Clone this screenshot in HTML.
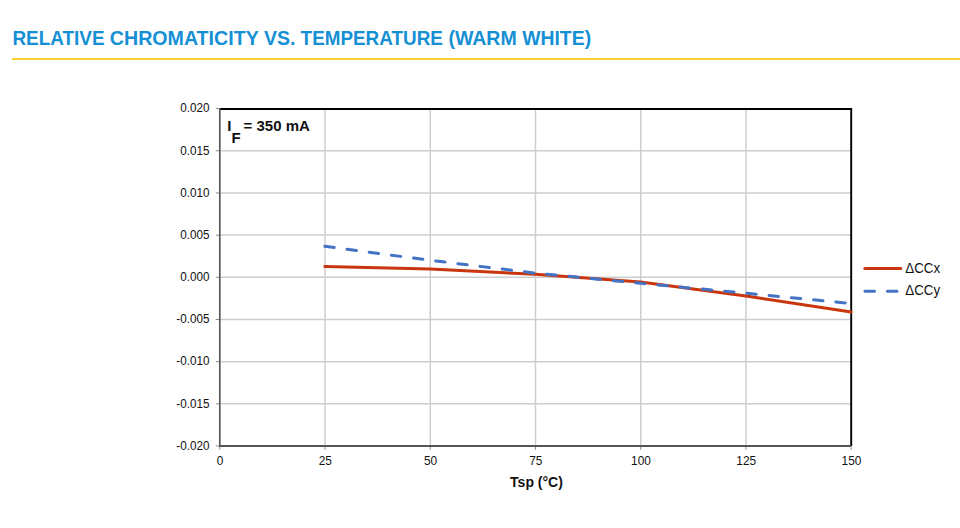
<!DOCTYPE html>
<html><head><meta charset="utf-8">
<style>
html,body{margin:0;padding:0;background:#fff;}
body{width:960px;height:528px;overflow:hidden;position:relative;}
svg{position:absolute;left:0;top:0;}
</style></head>
<body>
<svg width="960" height="528" viewBox="0 0 960 528">
<g font-family="'Liberation Sans', Arial, sans-serif" font-weight="bold" font-size="19.5" fill="#1590d5">
<text transform="translate(12.45 44.9) scale(0.971 1)">RELATIVE</text>
<text transform="translate(109.80 44.9) scale(1.007 1)">CHROMATICITY</text>
<text transform="translate(264.10 44.9) scale(1.0 1)">VS.</text>
<text transform="translate(300.60 44.9) scale(0.968 1)">TEMPERATURE</text>
<text transform="translate(448.40 44.9) scale(1.002 1)">(WARM</text>
<text transform="translate(522.20 44.9) scale(0.994 1)">WHITE)</text>
</g>
<rect x="12" y="58" width="948" height="2" fill="#fcd22c"/>
<g stroke="#cdcdcd" stroke-width="1.5" fill="none">
<line x1="219.8" y1="150.77" x2="851.2" y2="150.77"/>
<line x1="219.8" y1="192.95" x2="851.2" y2="192.95"/>
<line x1="219.8" y1="235.12" x2="851.2" y2="235.12"/>
<line x1="219.8" y1="277.30" x2="851.2" y2="277.30"/>
<line x1="219.8" y1="319.48" x2="851.2" y2="319.48"/>
<line x1="219.8" y1="361.65" x2="851.2" y2="361.65"/>
<line x1="219.8" y1="403.82" x2="851.2" y2="403.82"/>
<line x1="325.03" y1="108.6" x2="325.03" y2="446.0"/>
<line x1="430.27" y1="108.6" x2="430.27" y2="446.0"/>
<line x1="535.50" y1="108.6" x2="535.50" y2="446.0"/>
<line x1="640.73" y1="108.6" x2="640.73" y2="446.0"/>
<line x1="745.97" y1="108.6" x2="745.97" y2="446.0"/>
</g>
<g stroke="#8c8c8c" stroke-width="1" fill="none">
<line x1="215.8" y1="108.60" x2="219" y2="108.60"/>
<line x1="215.8" y1="150.77" x2="219" y2="150.77"/>
<line x1="215.8" y1="192.95" x2="219" y2="192.95"/>
<line x1="215.8" y1="235.12" x2="219" y2="235.12"/>
<line x1="215.8" y1="277.30" x2="219" y2="277.30"/>
<line x1="215.8" y1="319.48" x2="219" y2="319.48"/>
<line x1="215.8" y1="361.65" x2="219" y2="361.65"/>
<line x1="215.8" y1="403.82" x2="219" y2="403.82"/>
<line x1="215.8" y1="446.00" x2="219" y2="446.00"/>
<line x1="219.80" y1="446.8" x2="219.80" y2="449.8"/>
<line x1="325.03" y1="446.8" x2="325.03" y2="449.8"/>
<line x1="430.27" y1="446.8" x2="430.27" y2="449.8"/>
<line x1="535.50" y1="446.8" x2="535.50" y2="449.8"/>
<line x1="640.73" y1="446.8" x2="640.73" y2="449.8"/>
<line x1="745.97" y1="446.8" x2="745.97" y2="449.8"/>
<line x1="851.20" y1="446.8" x2="851.20" y2="449.8"/>
</g>
<path d="M219.8 109.0 H851.2 V446" stroke="#000" stroke-width="1.9" fill="none"/>
<line x1="219.8" y1="108.19999999999999" x2="219.8" y2="446.0" stroke="#595959" stroke-width="1.7"/>
<line x1="218.95000000000002" y1="446" x2="851.0" y2="446" stroke="#555" stroke-width="2"/>
<path d="M324.90 266.60 L430.10 269.00 L535.40 274.30 L640.60 281.90 L745.90 296.00 L851.20 311.90" stroke="#c9360e" stroke-width="3.0" fill="none" stroke-linecap="round" stroke-linejoin="round"/>
<path d="M324.90 246.30 L430.10 260.30 L535.40 273.10 L640.60 283.30 L745.90 293.20 L851.20 303.50" stroke="#4472c4" stroke-width="3.0" fill="none" stroke-linecap="round" stroke-dasharray="9.4 12.95"/>
<g font-family="'Liberation Sans', Arial, sans-serif" font-size="12.5" fill="#111" text-anchor="end">
<text transform="translate(209.5 111.80) scale(0.935 1)">0.020</text>
<text transform="translate(209.5 154.77) scale(0.935 1)">0.015</text>
<text transform="translate(209.5 196.95) scale(0.935 1)">0.010</text>
<text transform="translate(209.5 239.12) scale(0.935 1)">0.005</text>
<text transform="translate(209.5 281.30) scale(0.935 1)">0.000</text>
<text transform="translate(209.5 323.48) scale(0.935 1)">-0.005</text>
<text transform="translate(209.5 365.05) scale(0.935 1)">-0.010</text>
<text transform="translate(209.5 407.82) scale(0.935 1)">-0.015</text>
<text transform="translate(209.5 450.00) scale(0.935 1)">-0.020</text>
</g>
<g font-family="'Liberation Sans', Arial, sans-serif" font-size="12.5" fill="#111" text-anchor="middle">
<text transform="translate(220.10 465.0) scale(0.95 1)">0</text>
<text transform="translate(325.33 465.0) scale(0.95 1)">25</text>
<text transform="translate(430.57 465.0) scale(0.95 1)">50</text>
<text transform="translate(535.80 465.0) scale(0.95 1)">75</text>
<text transform="translate(641.03 465.0) scale(0.95 1)">100</text>
<text transform="translate(746.27 465.0) scale(0.95 1)">125</text>
<text transform="translate(851.50 465.0) scale(0.95 1)">150</text>
</g>
<text x="536.5" y="487.3" font-family="'Liberation Sans', Arial, sans-serif" font-size="14" font-weight="bold" fill="#111" text-anchor="middle">Tsp (°C)</text>
<g font-family="'Liberation Sans', Arial, sans-serif" font-weight="bold" fill="#111" font-size="15">
<text x="227.3" y="131">I</text>
<text x="231.6" y="143.4">F</text>
<text x="243.6" y="131">= 350 mA</text>
</g>
<line x1="864.8" y1="268.4" x2="900.8" y2="268.4" stroke="#c9360e" stroke-width="3.0" stroke-linecap="round"/>
<line x1="864.9" y1="291.2" x2="900.8" y2="291.2" stroke="#4472c4" stroke-width="3.0" stroke-linecap="round" stroke-dasharray="9.6 12.9"/>
<g font-family="'Liberation Sans', Arial, sans-serif" font-size="13.8" fill="#111">
<text transform="translate(905.2 272.7) scale(0.97 1)">ΔCCx</text>
<text transform="translate(905.2 295) scale(0.97 1)">ΔCCy</text>
</g>
</svg>
</body></html>
